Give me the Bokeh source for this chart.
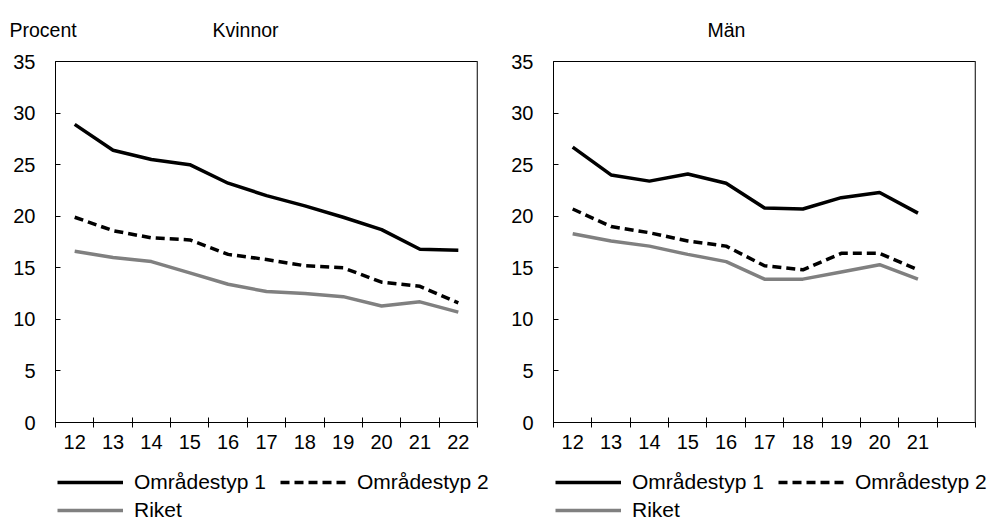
from bokeh.plotting import figure
from bokeh.layouts import row, column
from bokeh.models import (Range1d, FixedTicker, Legend, LegendItem, Span, ColumnDataSource)
from bokeh.core.properties import value
from bokeh.embed import file_html
from bokeh.resources import INLINE

FONT = "Liberation Sans"

# ---- data ----
years_k = [12, 13, 14, 15, 16, 17, 18, 19, 20, 21, 22]
kvinnor_omr1 = [28.9, 26.4, 25.5, 25.0, 23.2, 22.0, 21.0, 19.9, 18.7, 16.8, 16.7]
kvinnor_omr2 = [19.9, 18.6, 17.9, 17.7, 16.3, 15.8, 15.2, 15.0, 13.6, 13.2, 11.6]
kvinnor_riket = [16.6, 16.0, 15.6, 14.5, 13.4, 12.7, 12.5, 12.2, 11.3, 11.7, 10.7]

years_m = [12, 13, 14, 15, 16, 17, 18, 19, 20, 21]
man_omr1 = [26.7, 24.0, 23.4, 24.1, 23.2, 20.8, 20.7, 21.8, 22.3, 20.3]
man_omr2 = [20.7, 19.0, 18.4, 17.6, 17.1, 15.2, 14.8, 16.4, 16.4, 14.8]
man_riket = [18.3, 17.6, 17.1, 16.3, 15.6, 13.9, 13.9, 14.6, 15.3, 13.9]

categories = [12, 13, 14, 15, 16, 17, 18, 19, 20, 21, 22]
y_ticks = [0, 5, 10, 15, 20, 25, 30, 35]
series_names = ["Områdestyp 1", "Områdestyp 2", "Riket"]
heading_texts = ["Procent", "Kvinnor", "Män"]

STYLES = [dict(line_color="black", line_width=3.5),
          dict(line_color="black", line_width=3.5, line_dash="9 5"),
          dict(line_color="#808080", line_width=3.5)]

W, H = 987, 522
HEADER_H = 40
FOOTER_H = 60
ROW_H = H - HEADER_H - FOOTER_H


def blank(width, height):
    f = figure(width=width, height=height, x_range=Range1d(0, width),
               y_range=Range1d(0, height), x_axis_type=None, y_axis_type=None,
               min_border=0, output_backend="svg", toolbar_location=None,
               background_fill_color="white", border_fill_color="white")
    f.outline_line_color = None
    f.xgrid.visible = False
    f.ygrid.visible = False
    return f


# ---- header with panel titles ----
header = blank(W, HEADER_H)
header.text(x=[9, 212, 707], y=[HEADER_H - 29.3] * 3, text=heading_texts,
            text_font=value(FONT), text_font_size="19.5px", text_color="black",
            text_align="left", text_baseline="alphabetic")


def make_panel(years, series, tick_labels, border_left, border_right, width):
    p = figure(width=width, height=ROW_H, frame_width=422, frame_height=361,
               min_border_left=border_left, min_border_right=border_right,
               min_border_top=21, min_border_bottom=ROW_H - 21 - 361,
               x_range=Range1d(categories[0] - 0.5, categories[-1] + 0.5),
               y_range=Range1d(0, 35),
               output_backend="svg", toolbar_location=None,
               background_fill_color="white", border_fill_color="white")
    p.xgrid.visible = False
    p.ygrid.visible = False
    p.outline_line_color = "black"
    p.outline_line_width = 1

    ya = p.yaxis[0]
    ya.ticker = FixedTicker(ticks=y_ticks)
    ya.major_tick_in = 5
    ya.major_tick_out = 0
    ya.minor_tick_line_color = None
    ya.axis_line_color = "black"
    ya.major_tick_line_color = "black"
    ya.major_label_text_font = FONT
    ya.major_label_text_font_size = "20px"
    ya.major_label_text_color = "black"
    ya.major_label_standoff = 20

    xa = p.xaxis[0]
    xa.ticker = FixedTicker(ticks=tick_labels,
                            minor_ticks=[c - 0.5 for c in categories] + [categories[-1] + 0.5])
    xa.major_tick_in = 0
    xa.major_tick_out = 0
    xa.minor_tick_in = 5
    xa.minor_tick_out = 5
    xa.minor_tick_line_color = "black"
    xa.axis_line_color = "black"
    xa.major_label_text_font = FONT
    xa.major_label_text_font_size = "20px"
    xa.major_label_text_color = "black"
    xa.major_label_standoff = 7

    p.add_layout(Span(location=categories[-1] + 0.5, dimension="height",
                      line_color="#808080", line_width=2))

    src = ColumnDataSource(dict(x=years, s1=series[0], s2=series[1], s3=series[2]))
    for key, st in zip(["s1", "s2", "s3"], STYLES):
        p.line("x", key, source=src, **st)
    return p


p1 = make_panel(years_k, [kvinnor_omr1, kvinnor_omr2, kvinnor_riket],
                categories, 55, 31, 508)
p2 = make_panel(years_m, [man_omr1, man_omr2, man_riket],
                categories[:-1], 45, 12, 479)

# ---- footer with legends (proxy renderers hold no visible data) ----
footer = blank(W, FOOTER_H)
nan = float("nan")
proxies = [footer.line(x=[nan], y=[nan], **st) for st in STYLES]
common = dict(glyph_width=66, label_standoff=11, padding=0, margin=0,
              border_line_color=None, background_fill_alpha=0,
              label_text_font=FONT, label_text_font_size="21px",
              label_text_color="black", orientation="horizontal")
for x0 in (57, 555):
    lg1 = Legend(items=[LegendItem(label=series_names[0], renderers=[proxies[0]]),
                        LegendItem(label=series_names[1], renderers=[proxies[1]])],
                 location=(x0, 28), glyph_height=20, label_height=20, spacing=14,
                 **common)
    lg2 = Legend(items=[LegendItem(label=series_names[2], renderers=[proxies[2]])],
                 location=(x0, 0), glyph_height=18, label_height=18, spacing=14,
                 **common)
    footer.add_layout(lg1)
    footer.add_layout(lg2)

layout = column(header, row(p1, p2), footer)
open("out.html", "w").write(file_html(layout, INLINE))
